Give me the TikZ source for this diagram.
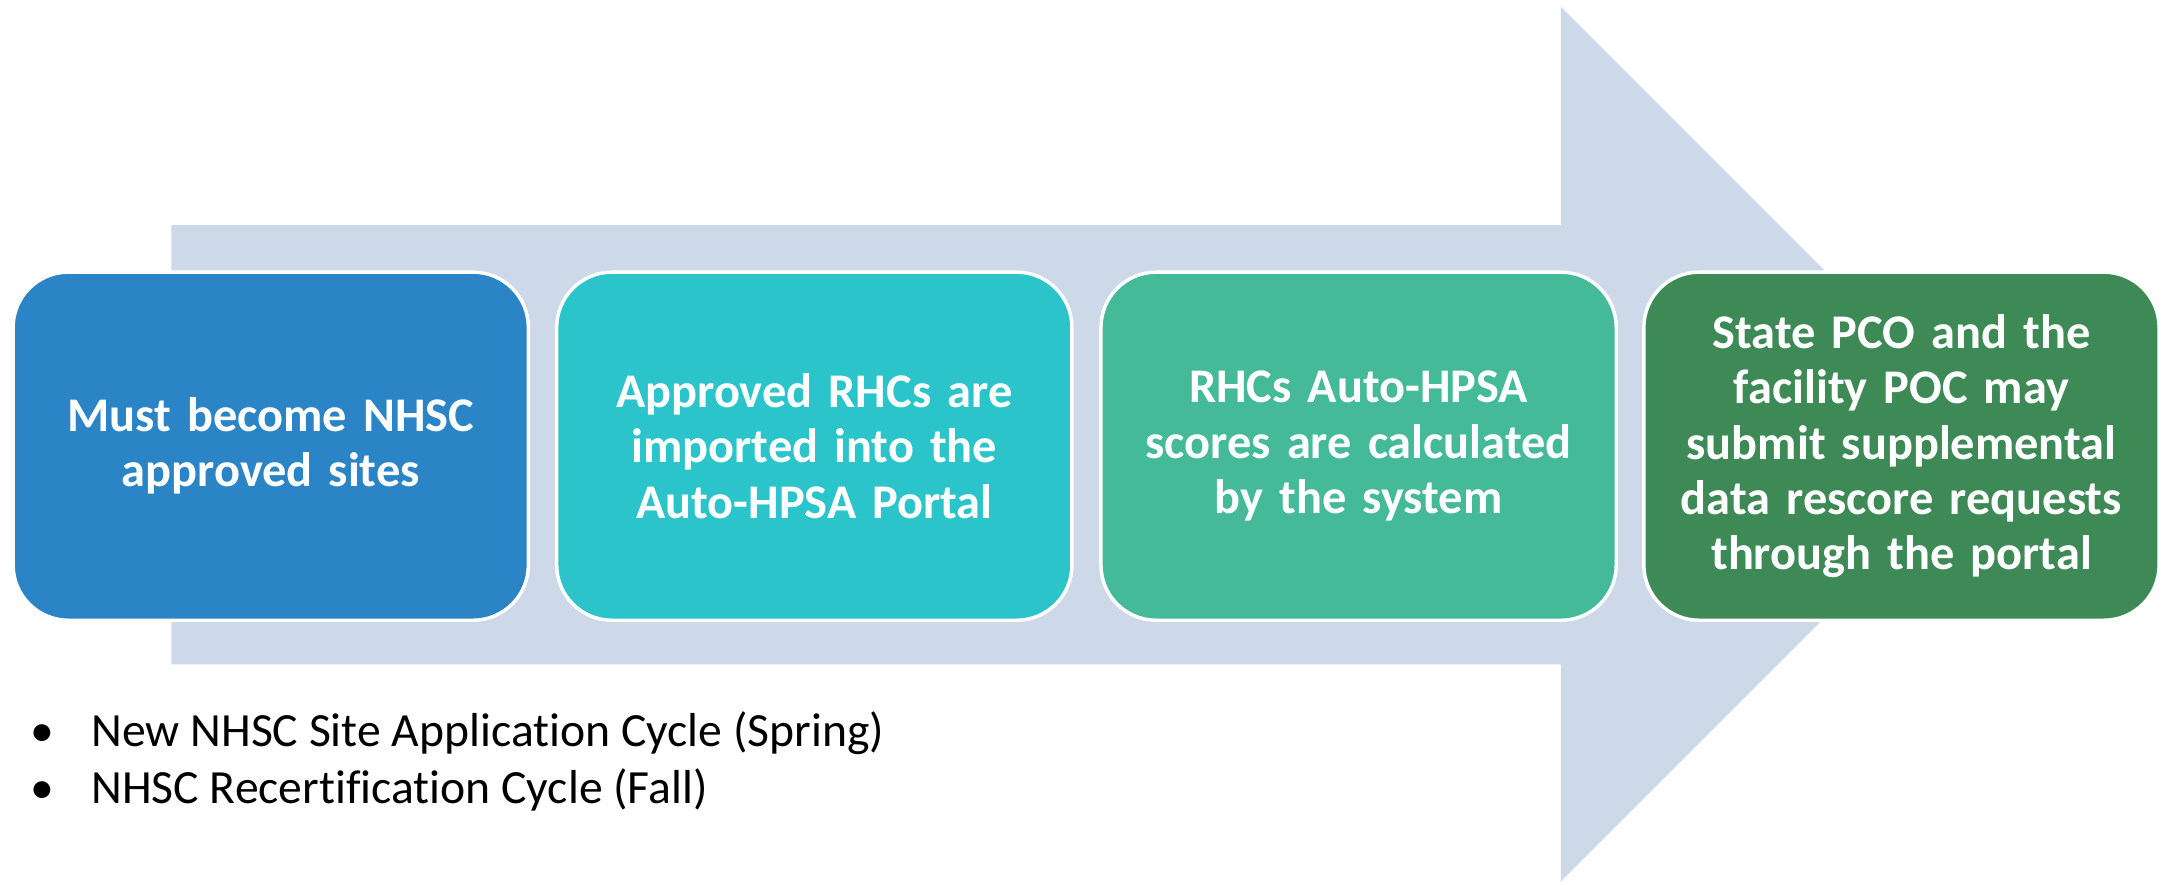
\documentclass[tikz,border=0pt]{standalone}
\usepackage{fontspec}
\setmainfont{Carlito}[Ligatures=NoCommon]
\definecolor{arrowc}{HTML}{CDD8E9}
\definecolor{cA}{HTML}{2A84C6}
\definecolor{cB}{HTML}{2BC4CB}
\definecolor{cC}{HTML}{45BA98}
\definecolor{cD}{HTML}{3E8A57}
\tikzset{
  stepbox/.style={draw=white, line width=2.5pt, rounded corners=40pt, minimum width=373pt, minimum height=252pt, text width=350pt, align=center, text=white, font=\fontsize{35}{40}\selectfont\bfseries, inner sep=0pt},
  bullettext/.style={anchor=base west, font=\fontsize{34.5}{41}\selectfont, inner sep=0pt}
}
\begin{document}
\begin{tikzpicture}[x=1pt,y=-1pt]
\useasboundingbox (0,0) rectangle (1568,640);
\fill[arrowc] (124,163) -- (1130,163) -- (1130,5) -- (1446.5,321.5) -- (1130,638) -- (1130,481) -- (124,481) -- cycle;
\node[stepbox, fill=cA] (b1) at (196,323) {Must become NHSC\\approved sites};
\node[stepbox, fill=cB] (b2) at (589.5,323) {Approved RHCs are\\imported into the\\Auto-HPSA Portal};
\node[stepbox, fill=cC] (b3) at (983.5,323) {RHCs Auto-HPSA\\scores are calculated\\by the system};
\node[stepbox, fill=cD] (b4) at (1376.5,323) {State PCO and the\\facility POC may\\submit supplemental\\data rescore requests\\through the portal};
\node[bullettext] (d1) at (22,540.5) {\textbullet};
\node[bullettext] (l1) at (66,540.5) {New NHSC Site Application Cycle (Spring)};
\node[bullettext] (d2) at (22,581.5) {\textbullet};
\node[bullettext] (l2) at (66,581.5) {NHSC Recertification Cycle (Fall)};
\end{tikzpicture}
\end{document}
